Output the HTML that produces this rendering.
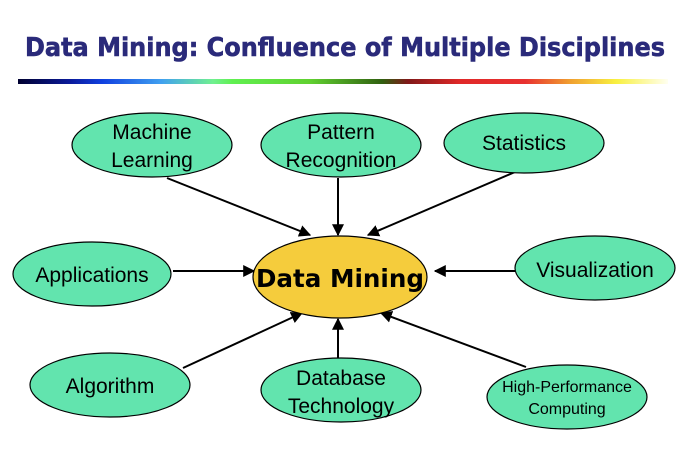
<!DOCTYPE html>
<html><head><meta charset="utf-8"><style>html,body{margin:0;padding:0;background:#fff}svg{display:block}</style></head>
<body>
<svg width="683" height="451" viewBox="0 0 683 451" xmlns="http://www.w3.org/2000/svg" font-family="'Liberation Sans', sans-serif">
<defs>
<linearGradient id="g" x1="0" x2="1" y1="0" y2="0">
<stop offset="0" stop-color="#000030"/>
<stop offset="0.08" stop-color="#0a1a9a"/>
<stop offset="0.13" stop-color="#1040e0"/>
<stop offset="0.22" stop-color="#40a0f0"/>
<stop offset="0.3" stop-color="#70f090"/>
<stop offset="0.33" stop-color="#60f050"/>
<stop offset="0.45" stop-color="#60d030"/>
<stop offset="0.56" stop-color="#306010"/>
<stop offset="0.6" stop-color="#801818"/>
<stop offset="0.68" stop-color="#e02828"/>
<stop offset="0.78" stop-color="#e83030"/>
<stop offset="0.85" stop-color="#f0a030"/>
<stop offset="0.92" stop-color="#f8f040"/>
<stop offset="1" stop-color="#fffff0"/>
</linearGradient>
<marker id="a" viewBox="0 0 10 10" refX="9" refY="5" markerWidth="6" markerHeight="6" orient="auto"><path d="M0,0L10,5L0,10z" fill="#000"/></marker>
</defs>
<text x="25" y="56" font-family="'DejaVu Sans', sans-serif" font-weight="bold" font-size="26" fill="#2a2a7a" stroke="#2a2a7a" stroke-width="0.6" textLength="640" lengthAdjust="spacingAndGlyphs">Data Mining: Confluence of Multiple Disciplines</text>
<rect x="18" y="79" width="650" height="5" fill="url(#g)"/>
<g stroke="#000" stroke-width="2" marker-end="url(#a)">
<line x1="167" y1="178" x2="310" y2="235"/>
<line x1="338" y1="178" x2="338" y2="235"/>
<line x1="515" y1="172" x2="368" y2="235"/>
<line x1="173" y1="271" x2="254" y2="271"/>
<line x1="515" y1="271" x2="435" y2="271"/>
<line x1="183" y1="368" x2="302" y2="313"/>
<line x1="338" y1="358" x2="338" y2="319"/>
<line x1="526" y1="367" x2="381" y2="313"/>
</g>
<g fill="#62e4ae" stroke="#000" stroke-width="1.2">
<ellipse cx="152" cy="145" rx="80" ry="32"/>
<ellipse cx="341" cy="145" rx="80" ry="32"/>
<ellipse cx="524" cy="143" rx="80" ry="30"/>
<ellipse cx="92" cy="274" rx="79" ry="32"/>
<ellipse cx="595" cy="268" rx="80" ry="32"/>
<ellipse cx="110" cy="385" rx="80" ry="32"/>
<ellipse cx="341" cy="390" rx="80" ry="32"/>
<ellipse cx="567" cy="397" rx="80" ry="32"/>
</g>
<ellipse cx="340" cy="277" rx="87" ry="41" fill="#f5cc3c" stroke="#000" stroke-width="1.2"/>
<g font-size="21" text-anchor="middle" fill="#000">
<text x="152" y="139">Machine</text>
<text x="152" y="167">Learning</text>
<text x="341" y="139">Pattern</text>
<text x="341" y="167">Recognition</text>
<text x="524" y="150">Statistics</text>
<text x="92" y="282">Applications</text>
<text x="595" y="277">Visualization</text>
<text x="110" y="393">Algorithm</text>
<text x="341" y="385">Database</text>
<text x="341" y="413">Technology</text>
<text x="567" y="392" font-size="16">High-Performance</text>
<text x="567" y="414" font-size="16">Computing</text>
<text x="340" y="287" font-family="'DejaVu Sans', sans-serif" font-weight="bold" font-size="25" textLength="168" lengthAdjust="spacingAndGlyphs">Data Mining</text>
</g>
</svg>
</body></html>
